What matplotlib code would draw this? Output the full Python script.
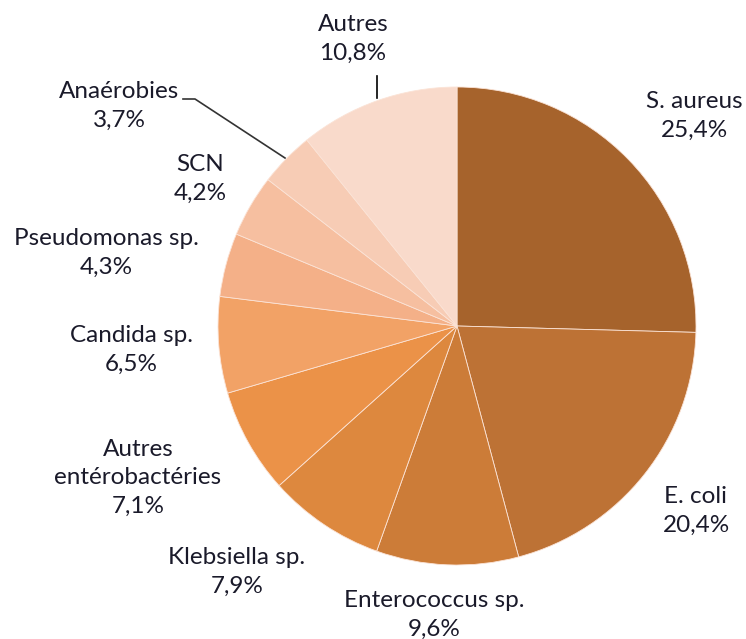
import numpy as np
from matplotlib import pyplot as plt

labels = ["S. aureus", "E. coli", "Enterococcus sp.", "Klebsiella sp.",
          "Autres\nentérobactéries", "Candida sp.", "Pseudomonas sp.",
          "SCN", "Anaérobies", "Autres"]
values = [25.4, 20.4, 9.6, 7.9, 7.1, 6.5, 4.3, 4.2, 3.7, 10.8]
colors = ["#A6632C", "#BD7235", "#CC7C38", "#DD883E", "#EB9248",
          "#F2A266", "#F4B088", "#F6BFA0", "#F7CCB5", "#F9DACB"]

# label centres in pixels (layout only)
label_px = [(694, 116), (696, 511), (434, 615), (237, 572),
            (138, 478), (131, 350), (106, 253), (200, 179),
            (119, 106), (353, 39)]

W, H = 746, 639
cx, cy, R = 457, 326, 239

fig = plt.figure(figsize=(W / 100, H / 100), dpi=100)
ax = fig.add_axes([0, 0, 1, 1])
ax.pie(values, colors=colors, startangle=90, counterclock=False, radius=1,
       wedgeprops=dict(edgecolor="#FBE3D6", linewidth=0.6))
ax.set_xlim(-cx / R, (W - cx) / R)
ax.set_ylim((cy - H) / R, cy / R)
ax.set_aspect("equal")
ax.axis("off")

def to_data(px, py):
    return (px - cx) / R, (cy - py) / R

for lab, v, (px, py) in zip(labels, values, label_px):
    x, y = to_data(px, py)
    txt = lab + "\n" + ("%.1f%%" % v).replace(".", ",")
    ax.text(x, y, txt, ha="center", va="center", fontsize=17.5,
            family="Lato", color="#1a1a2a", linespacing=1.45)

# leader lines
x0, y0 = to_data(377, 76)
x1, y1 = to_data(377, 98)
ax.plot([x0, x1], [y0, y1], color="black", lw=1.2)
xa, ya = to_data(183, 99)
xb, yb = to_data(195, 99)
xc, yc = to_data(285, 158)
ax.plot([xa, xb, xc], [ya, yb, yc], color="#333333", lw=1.2)

fig.savefig("out.png", dpi=100)
